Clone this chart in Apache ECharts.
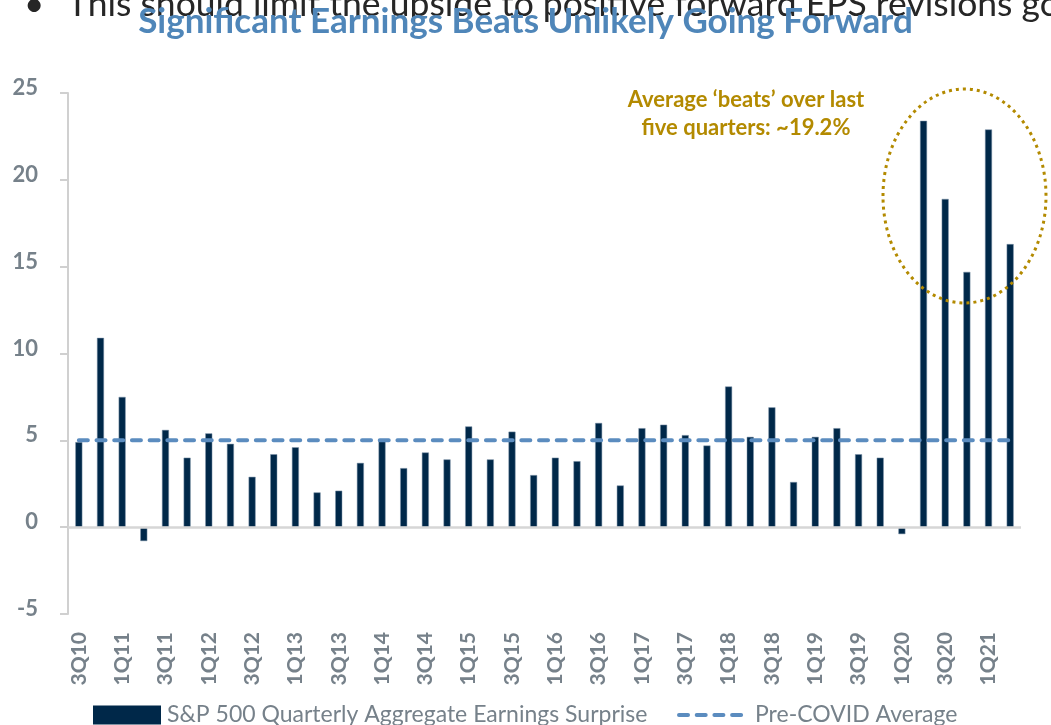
<!DOCTYPE html>
<html>
<head>
<meta charset="utf-8">
<script src="https://cdn.jsdelivr.net/npm/echarts@6/dist/echarts.min.js"></script>
<style>
  html, body { margin: 0; padding: 0; background: #ffffff; }
  #chart { width: 1051px; height: 725px; }
</style>
</head>
<body>
<div id="chart"></div>
<script>
// Quarters from 3Q10 to 2Q21
const quarters = [
  '3Q10','4Q10','1Q11','2Q11','3Q11','4Q11','1Q12','2Q12','3Q12','4Q12',
  '1Q13','2Q13','3Q13','4Q13','1Q14','2Q14','3Q14','4Q14','1Q15','2Q15',
  '3Q15','4Q15','1Q16','2Q16','3Q16','4Q16','1Q17','2Q17','3Q17','4Q17',
  '1Q18','2Q18','3Q18','4Q18','1Q19','2Q19','3Q19','4Q19','1Q20','2Q20',
  '3Q20','4Q20','1Q21','2Q21'
];

// S&P 500 aggregate earnings surprise (%)
const surprise = [
  4.9, 10.9, 7.5, -0.8, 5.6, 4.0, 5.4, 4.8, 2.9, 4.2,
  4.6, 2.0, 2.1, 3.7, 5.0, 3.4, 4.3, 3.9, 5.8, 3.9,
  5.5, 3.0, 4.0, 3.8, 6.0, 2.4, 5.7, 5.9, 5.3, 4.7,
  8.1, 5.2, 6.9, 2.6, 5.2, 5.7, 4.2, 4.0, -0.4, 23.4,
  18.9, 14.7, 22.9, 16.3
];

// Pre-COVID average surprise
const preCovidAverage = 5.0;
const averageLine = quarters.map(() => preCovidAverage);

const yTicks = { min: -5, max: 25, step: 5 };

const barName = 'S&P 500 Quarterly Aggregate Earnings Surprise';
const lineName = 'Pre-COVID Average';

const NAVY = '#002849';
const GREY = '#76818a';
const BLUE = '#5b8cbf';
const GOLD = '#b38a00';
const FONT = 'Lato';
const DASH = [9, 8.7];

const chart = echarts.init(document.getElementById('chart'));

chart.setOption({
  animation: false,
  backgroundColor: '#ffffff',
  textStyle: { fontFamily: FONT },
  grid: { left: 68, right: 30, top: 93, bottom: 111, containLabel: false },
  legend: [
    {
      data: [barName],
      left: 93, top: 703, padding: 0,
      itemWidth: 68, itemHeight: 19, itemGap: 0,
      icon: 'rect',
      itemStyle: { color: NAVY, borderWidth: 0 },
      textStyle: { color: GREY, fontSize: 23, lineHeight: 19, fontFamily: FONT, padding: [0, 0, 5, 1] }
    },
    {
      data: [lineName],
      left: 677, top: 703, padding: 0,
      itemWidth: 64, itemHeight: 19,
      itemStyle: { color: 'transparent', borderWidth: 0, opacity: 0 },
      lineStyle: { color: BLUE, width: 4, type: DASH, cap: 'round' },
      textStyle: { color: GREY, fontSize: 23, lineHeight: 19, fontFamily: FONT, padding: [0, 0, 5, 7] }
    }
  ],
  xAxis: {
    type: 'category',
    data: quarters,
    boundaryGap: true,
    axisLine: { show: false, onZero: false },
    axisTick: { show: false },
    axisLabel: {
      rotate: 90,
      interval: 1,
      margin: 18,
      color: GREY,
      fontSize: 21,
      fontWeight: 'bold',
      fontFamily: FONT
    },
    splitLine: { show: false }
  },
  yAxis: {
    type: 'value',
    min: yTicks.min,
    max: yTicks.max,
    interval: yTicks.step,
    axisLine: { show: true, lineStyle: { color: '#d0d0d0', width: 2 } },
    axisTick: { show: true, length: 8, lineStyle: { color: '#d0d0d0', width: 2 } },
    axisLabel: {
      margin: 30,
      color: GREY,
      fontSize: 22,
      fontWeight: 'bold',
      fontFamily: FONT,
      verticalAlign: 'bottom',
      lineHeight: 10
    },
    splitLine: { show: false }
  },
  series: [
    {
      name: barName,
      type: 'bar',
      data: surprise,
      barWidth: 7,
      itemStyle: { color: NAVY, borderColor: '#7f95ab', borderWidth: 0.5 },
      z: 2,
      markLine: {
        silent: true,
        symbol: 'none',
        label: { show: false },
        lineStyle: { color: '#d6d6d6', width: 2.5, type: 'solid' },
        data: [{ yAxis: 0 }]
      }
    },
    {
      name: lineName,
      type: 'line',
      data: averageLine,
      symbol: 'none',
      showSymbol: false,
      lineStyle: { color: BLUE, width: 4, type: DASH, cap: 'round' },
      itemStyle: { color: BLUE },
      z: 5
    }
  ],
  graphic: [
    {
      type: 'text',
      left: 24, top: -13,
      z: 1,
      style: { text: '\u2022', fill: '#262626', font: '35px ' + FONT }
    },
    {
      type: 'text',
      left: 67, top: -13,
      z: 1,
      style: {
        text: 'This should limit the upside to positive forward EPS revisions going forward',
        fill: '#262626',
        font: '35.5px ' + FONT
      }
    },
    {
      type: 'text',
      left: 'center', top: 4,
      z: 2,
      style: {
        text: 'Significant Earnings Beats Unlikely Going Forward',
        fill: '#4f86b9',
        font: 'bold 35px ' + FONT
      }
    },
    {
      type: 'text',
      x: 746, y: 86,
      z: 10,
      style: {
        text: 'Average \u2018beats\u2019 over last\nfive quarters: ~19.2%',
        fill: GOLD,
        font: 'bold 22px ' + FONT,
        align: 'center',
        lineHeight: 28
      }
    },
    {
      type: 'ellipse',
      z: 10,
      shape: { cx: 964.5, cy: 196, rx: 81.5, ry: 107 },
      style: { fill: 'none', stroke: GOLD, lineWidth: 3, lineDash: [3, 4] }
    }
  ]
});
</script>
</body>
</html>
